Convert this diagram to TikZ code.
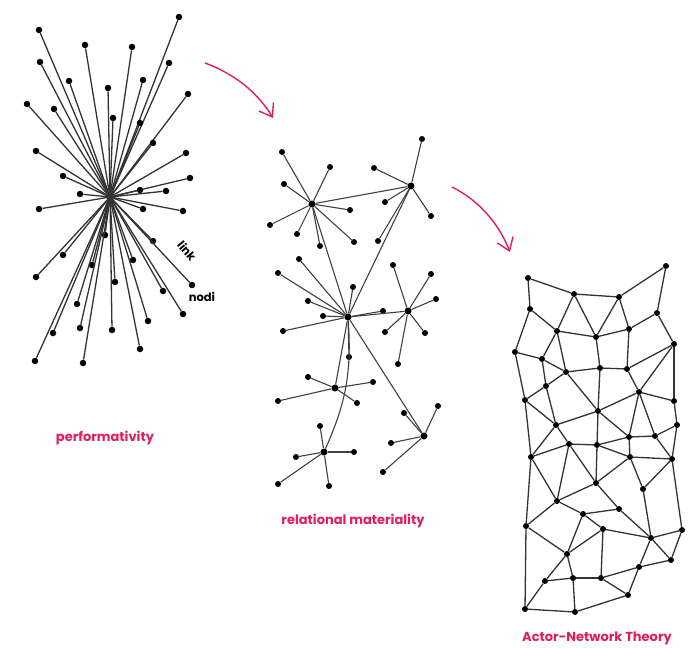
\documentclass[tikz,border=0pt]{standalone}
\usepackage{fontspec}
\setmainfont{Poppins}
\usetikzlibrary{arrows.meta}
\definecolor{antpink}{RGB}{224,30,92}

\begin{document}
\begin{tikzpicture}[
    x=1pt, y=-1pt,
    dot/.style={circle, fill=black, inner sep=0pt, minimum size=6.5pt},
    hub/.style={dot, minimum size=7pt},
    link/.style={draw=black!80, line width=1.3pt},
    thinlink/.style={draw=black!75, line width=1.1pt},
    caption/.style={text=antpink, font=\bfseries\fontsize{13}{15}\selectfont},
    tag/.style={font=\bfseries\fontsize{11.5}{13}\selectfont},
    flow/.style={draw=antpink, line width=1.4pt, -{Straight Barb[length=12pt, width=17pt, line width=1.4pt]}}
]
\useasboundingbox (0,0) rectangle (692,647);

% performativity: one star
\node[hub] (p0) at (110,197) {};
\foreach \x/\y [count=\i] in {39/30, 85/45, 132/47, 179/17, 40/62, 69/81, 108/88,
    143/80, 169/63, 27/104, 54/109, 113/118, 140/123, 188/94, 153/143, 36/151,
    186/153, 63/176, 190/178, 80/194, 140/190, 166/191, 39/209, 143/209, 183/211,
    105/235, 153/241, 63/255, 133/260, 36/277, 92/265, 115/282, 192/285, 163/291,
    77/304, 183/314, 148/321, 53/333, 80/328, 112/330, 140/349, 35/361, 83/363}
{
    \node[dot] (p\i) at (\x,\y) {};
    \draw[link] (p0.center) -- (p\i);
}
\node[tag, rotate=-50, inner sep=1pt] (linklbl) at (187,251) {link};
\node[tag] (nodilbl) at (202,297) {nodi};

% relational materiality: linked stars
\foreach \h/\hx/\hy in {ra/312/204, rb/411/186, rc/348/317, rd/408/311,
    re/335/388, rf/324/452, rg/424/436}
    \node[hub] (\h) at (\hx,\hy) {};
\foreach \h/\pts in {
    ra/{282/152, 330/167, 284/184, 350/210, 270/225, 297/234, 320/246, 354/242},
    rb/{422/139, 374/168, 385/202, 431/216, 378/241},
    rc/{299/259, 278/273, 353/287, 308/301, 323/316, 283/331, 383/311, 349/357},
    rd/{393/265, 431/274, 436/299, 385/332, 425/333, 398/364},
    re/{308/377, 373/382, 278/401, 357/403},
    rf/{320/426, 296/457, 354/452, 278/484, 329/486},
    rg/{438/406, 404/413, 391/443, 383/472}}
{
    \foreach \x/\y [count=\i] in \pts {
        \node[dot, minimum size=6pt] (\h\i) at (\x,\y) {};
        \draw[thinlink] (\h) -- (\h\i);
    }
}
\foreach \a/\b in {ra/rb, ra/rc, rb/rc, rc/rd, rc/re, rc/rg}
    \draw[thinlink] (\a) -- (\b);
\draw[thinlink] (rc) to[bend left=14] (rf);

% actor-network theory: mesh
\foreach \x/\y [count=\i] in {528/278, 574/294, 619/297, 666/266, 530/309, 657/313,
    557/331, 596/337, 629/329, 674/344, 515/352, 542/359, 566/372, 600/368,
    627/369, 546/386, 639/392, 525/400, 674/401, 598/411, 556/425, 677/425,
    629/437, 655/436, 569/444, 597/445}
    \node[dot, minimum size=6pt] (n\i) at (\x,\y) {};
\foreach \x/\y [count=\i] in {531/457, 630/457, 672/459, 596/483, 643/489, 557/501,
    619/509, 583/514, 526/526, 603/529, 651/538, 682/530, 567/554, 671/560,
    639/567, 545/581, 573/578, 601/578, 628/595, 525/609, 575/612}
    \node[dot, minimum size=6pt] (m\i) at (\x,\y) {};
\foreach \a/\b in {n1/n2, n2/n3, n3/n4, n1/n5, n4/n6, n2/n7, n2/n8, n3/n8, n3/n9,
    n5/n7, n5/n11, n6/n9, n6/n10, n7/n8, n8/n9, n7/n12, n7/n13, n8/n14, n9/n15,
    n11/n12, n12/n13, n13/n14, n14/n15, n15/n10, n10/n17, n10/n19, n11/n18,
    n12/n16, n18/n16, n16/n13, n13/n20, n15/n17, n14/n20, n17/n19, n17/n20,
    n17/n23, n17/n24, n19/n22, n22/n24, n16/n21, n18/n21, n18/m1, n20/n21,
    n20/n26, n21/n25, n25/n26, n26/n23, n23/n24, n20/n23, n21/m1,
    m1/n25, n24/m3, n23/m2, n26/m2, m2/m3, n22/m3, m1/m6, m1/m9, n25/m6, n26/m4,
    n25/m4, m2/m4, m2/m5, m3/m5, m3/m12, m4/m6, m4/m7, m5/m11, m6/m8, m6/m9,
    m8/m7, m7/m11, m8/m10, m8/m13, m9/m13, m9/m20, m10/m13, m10/m18, m10/m11,
    m11/m12, m11/m14, m11/m15, m14/m15, m13/m16, m13/m17, m16/m17, m17/m18,
    m18/m15, m18/m19, m15/m19, m16/m20, m17/m21, m20/m21, m21/m19, m12/m14}
    \draw[link] (\a) -- (\b);

% captions
\node[caption] (perf) at (105,438) {performativity};
\node[caption] (relmat) at (353,521) {relational materiality};
\node[caption] (ant) at (597,638) {Actor-Network Theory};

% arrows between the stages
\coordinate (f1s) at (205,63);
\coordinate (f1e) at (273,118);
\coordinate (f2s) at (452,187);
\coordinate (f2e) at (510,252);
\draw[flow] (f1s) .. controls (235,74) and (258,93) .. (f1e);
\draw[flow] (f2s) .. controls (478,200) and (498,222) .. (f2e);

\end{tikzpicture}
\end{document}
